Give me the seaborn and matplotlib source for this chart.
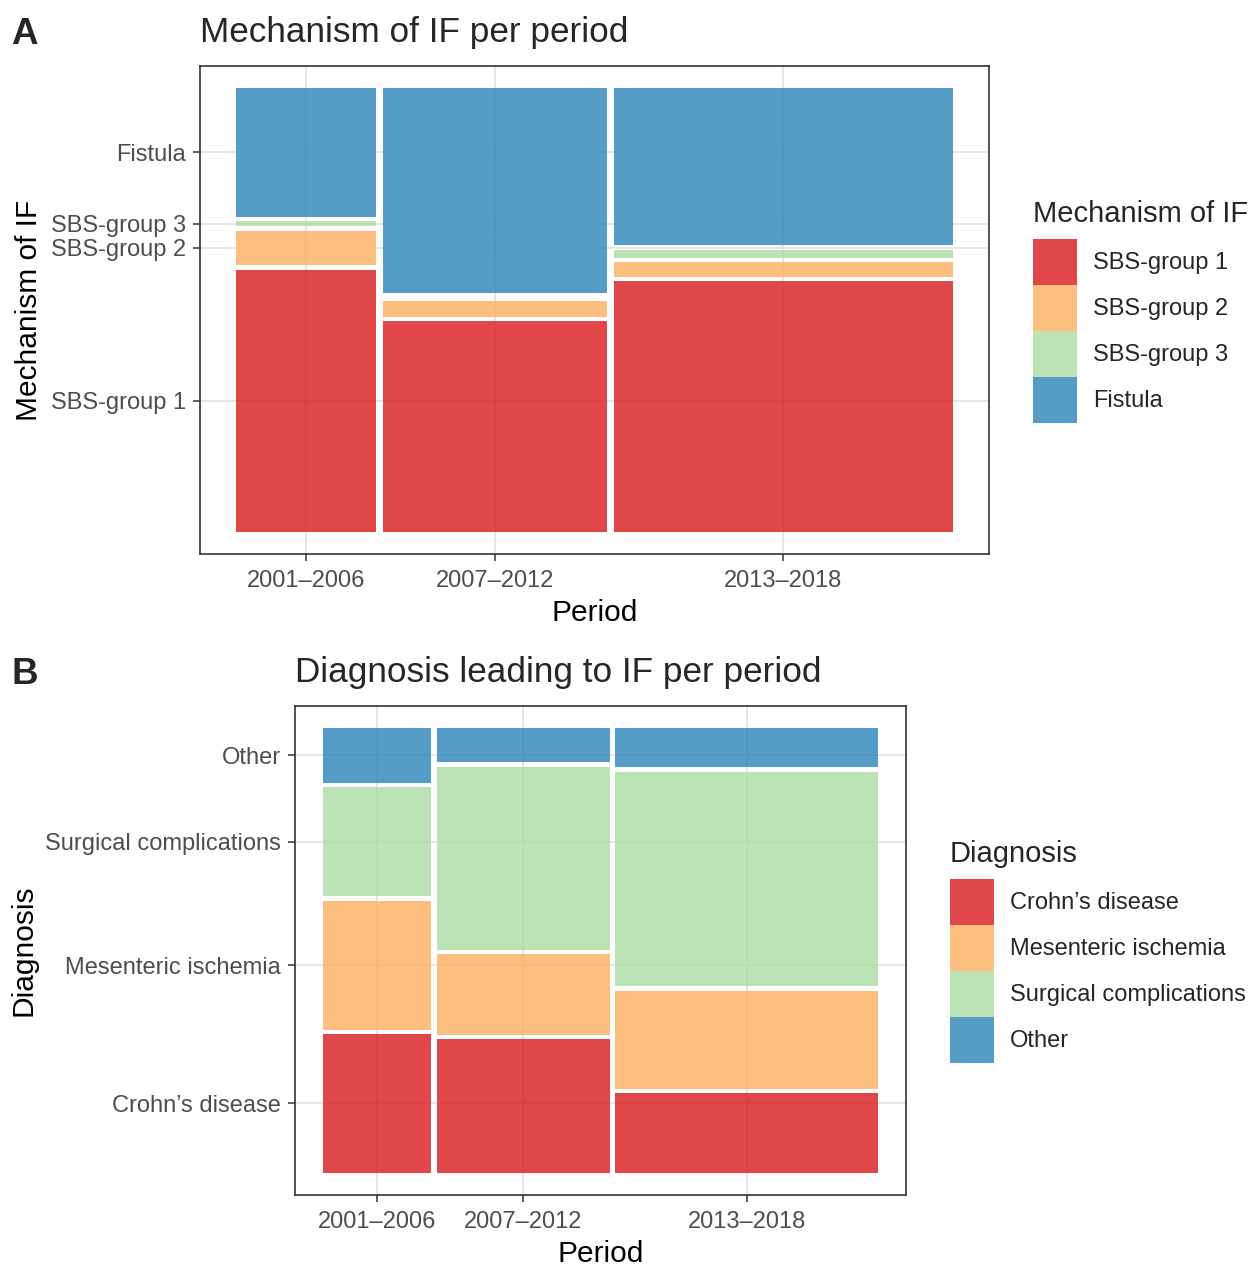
import numpy as np
import pandas as pd
import matplotlib.pyplot as plt
import seaborn as sns
from matplotlib.patches import Patch

periods = ["2001–2006", "2007–2012", "2013–2018"]

mechanisms = ["SBS-group 1", "SBS-group 2", "SBS-group 3", "Fistula"]
sbs1 = [53, 68, 123]
sbs2 = [7, 5, 7]
sbs3 = [1, 0, 4]
fistula = [26, 66, 77]

diagnoses = ["Crohn’s disease", "Mesenteric ischemia", "Surgical complications", "Other"]
crohn = [28, 43, 39]
mesenteric = [26, 26, 48]
surgical = [22, 59, 105]
other = [11, 11, 19]

palette = ["#D7191C", "#FDAE61", "#ABDDA4", "#2B83BA"]

sns.set_theme(style="whitegrid")
plt.rcParams['font.family'] = ['Liberation Sans', 'DejaVu Sans']


def mosaic_tiles(counts, cats, offset=0.01):
    # counts: DataFrame, rows = periods, columns = categories
    totals = counts.sum(axis=1)
    widths = totals / totals.sum() * (1 - offset * (len(totals) - 1))
    rows = []
    x = 0.0
    for per in counts.index:
        w = widths[per]
        props = counts.loc[per] / totals[per] * (1 - offset * (len(cats) - 1))
        y = 0.0
        for c in cats:
            rows.append(dict(period=per, category=c, x=x, w=w, y=y, h=props[c]))
            y += props[c] + offset
        x += w + offset
    return pd.DataFrame(rows)


def draw_mosaic(ax, counts, cats, title, ylabel, legend_title, leg_xy, fig):
    tiles = mosaic_tiles(counts, cats)
    colors = dict(zip(cats, palette))
    for t in tiles.itertuples():
        ax.bar(t.x, t.h, width=t.w, bottom=t.y, align='edge',
               color=colors[t.category], alpha=0.8, linewidth=0)

    first = tiles[tiles.period == counts.index[0]]
    xt = [tiles[tiles.period == p].x.iloc[0] + tiles[tiles.period == p].w.iloc[0] / 2
          for p in counts.index]
    ax.set_xticks(xt)
    ax.set_xticklabels(counts.index)
    ax.set_yticks((first.y + first.h / 2).values)
    ax.set_yticklabels(cats)
    ax.set_xlim(-0.05, 1.05)
    ax.set_ylim(-0.05, 1.05)

    ax.set_axisbelow(True)
    ax.grid(True, color='#E6E6E6', lw=1.4)
    for s in ax.spines.values():
        s.set_color('#333333')
        s.set_linewidth(1.2)
    ax.tick_params(axis='both', length=5, width=1.1, color='#333333',
                   labelsize=17.0, labelcolor='#4D4D4D', pad=5, left=True, bottom=True)
    ax.tick_params(axis='x', pad=6.5)
    ax.set_xlabel("Period", fontsize=21.5, color='black', labelpad=5.0)
    ax.set_ylabel(ylabel, fontsize=21.5, color='black', labelpad=5.5)
    ax.set_title(title, loc='left', fontsize=25.3, pad=17)

    handles = [Patch(facecolor=colors[c], alpha=0.8, linewidth=0, label=c) for c in cats]
    leg = ax.legend(handles=handles, title=legend_title, loc='upper left',
                    bbox_to_anchor=leg_xy, bbox_transform=fig.transFigure,
                    frameon=False, fontsize=17, title_fontsize=21,
                    handlelength=1.88, handleheight=2.62, handletextpad=0.65,
                    labelspacing=0.0, borderpad=0, borderaxespad=0,
                    alignment='left')
    leg._legend_box.sep = 8


fig = plt.figure(figsize=(12.52, 12.66), dpi=100)
ax_a = fig.add_axes([200 / 1252, 1 - 554 / 1266, 789 / 1252, 488 / 1266])
ax_b = fig.add_axes([295 / 1252, 1 - 1195 / 1266, 611 / 1252, 489 / 1266])

mech = pd.DataFrame({mechanisms[0]: sbs1, mechanisms[1]: sbs2,
                     mechanisms[2]: sbs3, mechanisms[3]: fistula}, index=periods)
diag = pd.DataFrame({diagnoses[0]: crohn, diagnoses[1]: mesenteric,
                     diagnoses[2]: surgical, diagnoses[3]: other}, index=periods)

draw_mosaic(ax_a, mech, mechanisms, "Mechanism of IF per period", "Mechanism of IF",
            "Mechanism of IF", (1033 / 1252, 1 - 200 / 1266), fig)
draw_mosaic(ax_b, diag, diagnoses, "Diagnosis leading to IF per period", "Diagnosis",
            "Diagnosis", (950 / 1252, 1 - 840 / 1266), fig)

fig.text(11 / 1252, 1 - 34 / 1266, "A", fontsize=26.5, fontweight='bold', va='center')
fig.text(11 / 1252, 1 - 674 / 1266, "B", fontsize=26.5, fontweight='bold', va='center')

fig.savefig("out.png", dpi=100)
